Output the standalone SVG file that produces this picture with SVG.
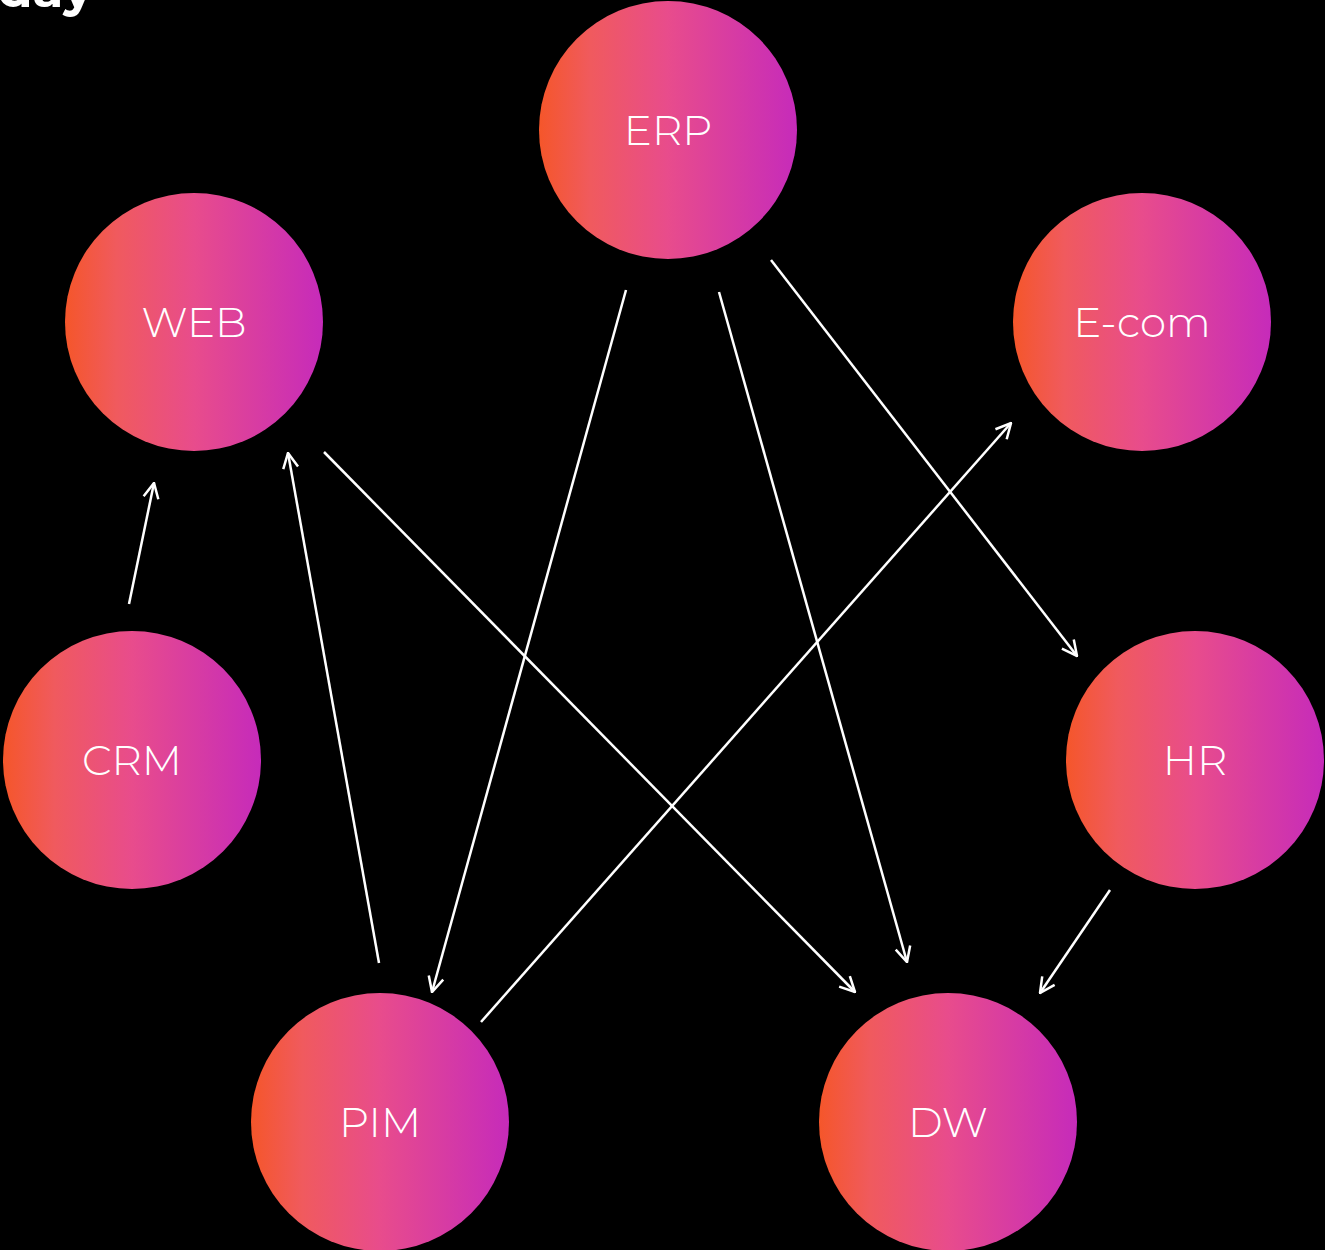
<svg xmlns="http://www.w3.org/2000/svg" width="1325" height="1250" viewBox="0 0 1325 1250">
<style>
.node circle{fill:url(#g)}
.node text{font-family:"Montserrat","Open Sans","Liberation Sans",sans-serif;font-weight:300;font-size:42px;fill:#fff;text-anchor:middle;dominant-baseline:central}
.conn line{stroke:#fff;stroke-width:2.5;fill:none;marker-end:url(#ah)}
</style>
<defs>
<linearGradient id="g" x1="0" y1="0" x2="1" y2="0">
<stop offset="0" stop-color="#F5562A"/>
<stop offset="0.2" stop-color="#F05A5E"/>
<stop offset="0.5" stop-color="#E84C8C"/>
<stop offset="1" stop-color="#C62BBA"/>
</linearGradient>
<marker id="ah" viewBox="0 0 18 18" refX="17" refY="9" markerWidth="18" markerHeight="18" markerUnits="userSpaceOnUse" orient="auto">
<path d="M2,1.5 L17,9 L2,16.5" fill="none" stroke="#fff" stroke-width="2.5"/>
</marker>
</defs>
<rect width="1325" height="1250" fill="#000"/>
<text x="-2" y="7" font-family="Montserrat,'Liberation Sans',sans-serif" font-weight="700" font-size="50" fill="#fff">day</text>
<g class="conn">
<line x1="129" y1="604" x2="154" y2="483"/>
<line x1="379" y1="963" x2="288" y2="453"/>
<line x1="324" y1="452" x2="855" y2="992"/>
<line x1="626" y1="290" x2="432" y2="992"/>
<line x1="719" y1="292" x2="907" y2="962"/>
<line x1="771" y1="260" x2="1077" y2="656"/>
<line x1="481" y1="1022" x2="1011" y2="423"/>
<line x1="1110" y1="890" x2="1040" y2="993"/>
</g>
<g id="erp" class="node"><circle cx="668" cy="130" r="129"/><text x="668" y="130">ERP</text></g>
<g id="web" class="node"><circle cx="194" cy="322" r="129"/><text x="194" y="322">WEB</text></g>
<g id="ecom" class="node"><circle cx="1142" cy="322" r="129"/><text x="1142" y="322">E-com</text></g>
<g id="crm" class="node"><circle cx="132" cy="760" r="129"/><text x="132" y="760">CRM</text></g>
<g id="hr" class="node"><circle cx="1195" cy="760" r="129"/><text x="1195" y="760">HR</text></g>
<g id="pim" class="node"><circle cx="380" cy="1122" r="129"/><text x="380" y="1122">PIM</text></g>
<g id="dw" class="node"><circle cx="948" cy="1122" r="129"/><text x="948" y="1122">DW</text></g>
</svg>
